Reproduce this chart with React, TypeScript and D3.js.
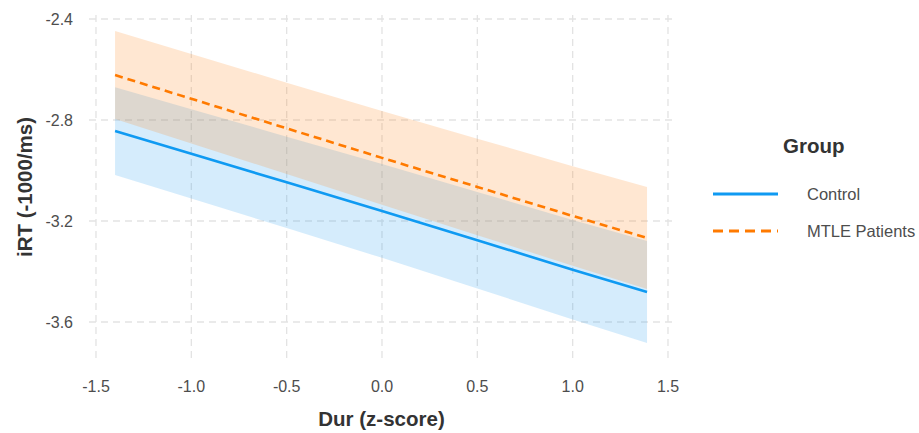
import React from "react";
import * as d3 from "d3";

// ---- data ----
const durValues = [-1.4, -1.0, -0.5, 0.0, 0.5, 1.0, 1.39];
const controlFit = [-2.844, -2.934, -3.047, -3.160, -3.276, -3.393, -3.481];
const mtleFit = [-2.622, -2.716, -2.833, -2.950, -3.065, -3.180, -3.267];
const ciHalfWidth = [0.174, 0.177, 0.181, 0.186, 0.191, 0.197, 0.202];
const xTicks = [-1.5, -1.0, -0.5, 0.0, 0.5, 1.0, 1.5];
const yTicks = [-2.4, -2.8, -3.2, -3.6];
const groups = ["Control", "MTLE Patients"];

const W = 919;
const H = 433;
const panel = { left: 89, right: 674, top: 15, bottom: 359 };

const COLORS = {
  Control: { line: "#0F9AF2", fill: "#1E9BF0", dash: "" },
  "MTLE Patients": { line: "#FF7A00", fill: "#FF7F0E", dash: "8,5" },
};

export default function App() {
  const x = d3.scaleLinear().domain([-1.5, 1.5]).range([96, 668]);
  const y = d3.scaleLinear().domain([-2.4, -3.6]).range([19, 322]);

  type P = { x: number; fit: number; lo: number; hi: number };
  const mk = (fit: number[]): P[] =>
    durValues.map((d, i) => ({ x: d, fit: fit[i], lo: fit[i] - ciHalfWidth[i], hi: fit[i] + ciHalfWidth[i] }));
  const series = [
    { name: "Control", pts: mk(controlFit) },
    { name: "MTLE Patients", pts: mk(mtleFit) },
  ];

  const area = d3
    .area<P>()
    .x((d) => x(d.x))
    .y0((d) => y(d.lo))
    .y1((d) => y(d.hi));
  const line = d3
    .line<P>()
    .x((d) => x(d.x))
    .y((d) => y(d.fit));

  const font = "'Liberation Sans', Arial, sans-serif";
  const gridColor = "#E3E3E3";

  return (
    <svg width={W} height={H} style={{ position: "absolute", left: 0, top: 0, background: "#fff" }} fontFamily={font}>
      <rect x={0} y={0} width={W} height={H} fill="#fff" />
      {/* grid */}
      {yTicks.map((t) => (
        <line key={"gy" + t} x1={panel.left} x2={panel.right} y1={y(t)} y2={y(t)} stroke={gridColor} strokeWidth={1.3} strokeDasharray="7,5" />
      ))}
      {xTicks.map((t) => (
        <line key={"gx" + t} x1={x(t)} x2={x(t)} y1={panel.top} y2={panel.bottom} stroke={gridColor} strokeWidth={1.3} strokeDasharray="7,5" />
      ))}
      {/* ribbons */}
      {series.map((s) => (
        <path key={"r" + s.name} d={area(s.pts) || ""} fill={COLORS[s.name].fill} fillOpacity={0.19} />
      ))}
      {/* lines */}
      {series.map((s) => (
        <path
          key={"l" + s.name}
          d={line(s.pts) || ""}
          fill="none"
          stroke={COLORS[s.name].line}
          strokeWidth={2.6}
          strokeDasharray={COLORS[s.name].dash || undefined}
        />
      ))}
      {/* y tick labels */}
      {yTicks.map((t) => (
        <text key={"ty" + t} x={73} y={y(t)} dy="0.36em" textAnchor="end" fontSize={16} fill="#4D4D4D">
          {d3.format(".1f")(t).replace("−", "-")}
        </text>
      ))}
      {/* x tick labels */}
      {xTicks.map((t) => (
        <text key={"tx" + t} x={x(t)} y={392} textAnchor="middle" fontSize={16} fill="#4D4D4D">
          {d3.format(".1f")(t).replace("−", "-")}
        </text>
      ))}
      {/* axis titles */}
      <text x={(panel.left + panel.right) / 2} y={426} textAnchor="middle" fontSize={20.5} fontWeight="bold" fill="#333">
        Dur (z-score)
      </text>
      <text
        transform={`translate(32, ${(panel.top + panel.bottom) / 2}) rotate(-90)`}
        textAnchor="middle"
        fontSize={20.5}
        fontWeight="bold"
        fill="#333"
      >
        iRT (-1000/ms)
      </text>
      {/* legend */}
      <text x={783} y={153} fontSize={20.5} fontWeight="bold" fill="#333">
        Group
      </text>
      {groups.map((g, i) => {
        const ky = 194 + i * 37;
        return (
          <g key={"lg" + g}>
            <line x1={713} x2={778} y1={ky} y2={ky} stroke={COLORS[g].line} strokeWidth={2.8} strokeDasharray={COLORS[g].dash ? "10,6" : undefined} />
            <text x={807} y={ky} dy="0.36em" fontSize={16.5} fill="#4D4D4D">
              {g}
            </text>
          </g>
        );
      })}
    </svg>
  );
}
